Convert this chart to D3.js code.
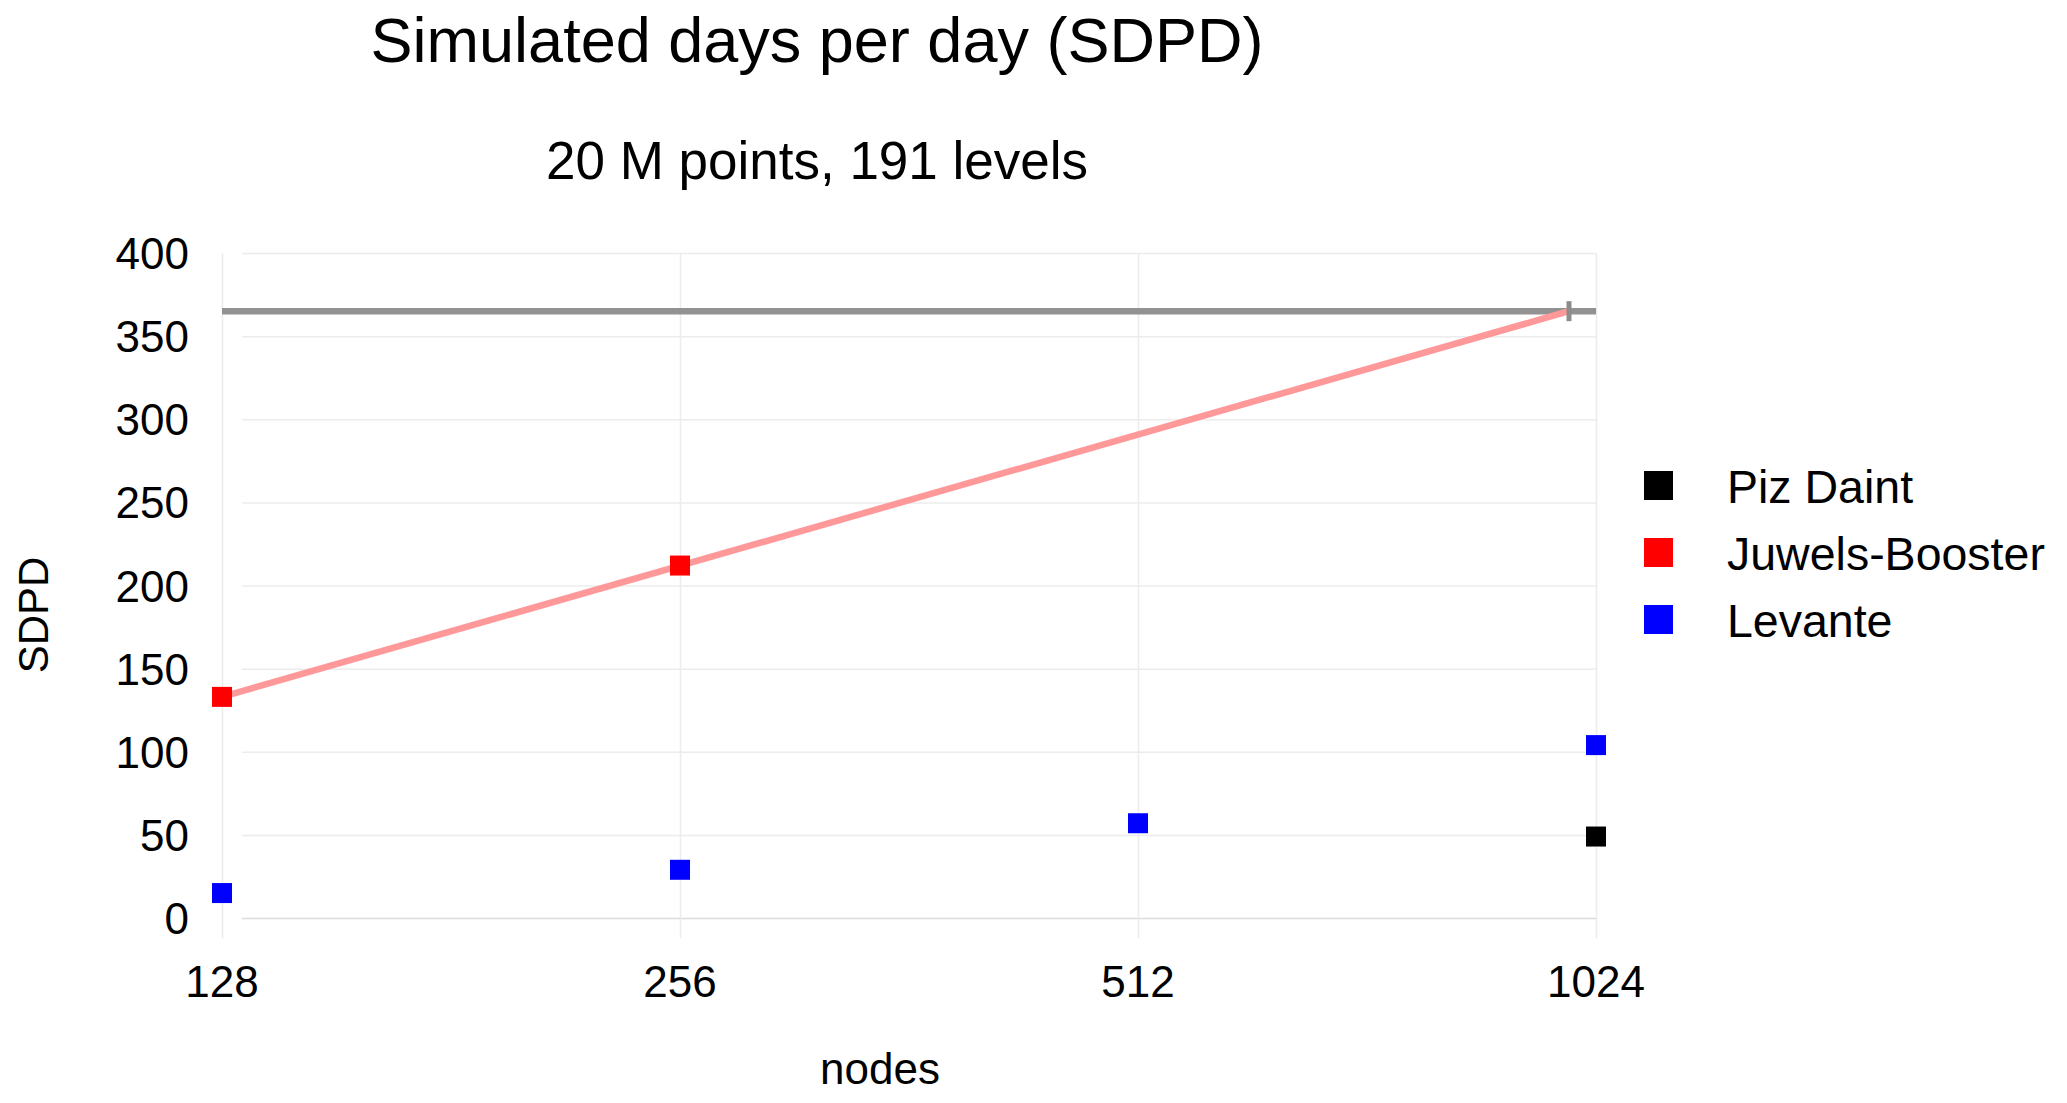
<!DOCTYPE html>
<html>
<head>
<meta charset="utf-8">
<script src="https://cdn.jsdelivr.net/npm/d3@7/dist/d3.min.js"></script>
<style>
    body { margin: 0; background: #fff; }
    text { font-family: "Liberation Sans", Arial, sans-serif; fill: #000; }
    .grid line { stroke: #ececec; stroke-width: 1.5; }
    .grid path { stroke: none; }
</style>
</head>
<body>
<div id="chart"></div>
<script>
    // chart data
    var nodeTicks = [128, 256, 512, 1024];
    var sdpdTicks = [0, 50, 100, 150, 200, 250, 300, 350, 400];

    var seriesNames = ["Piz Daint", "Juwels-Booster", "Levante"];
    var seriesColors = ["#000000", "#ff0000", "#0000ff"];

    var pizDaintNodes = [1024];
    var pizDaintSdpd = [49];
    var juwelsNodes = [128, 256];
    var juwelsSdpd = [133, 212];
    var levanteNodes = [128, 256, 512, 1024];
    var levanteSdpd = [15, 29, 57, 104];

    // one simulated year per day
    var targetSdpd = 365;
    // Juwels trend line, extended until it reaches the target
    var trendNodes = [128, 983];
    var trendSdpd = [133, 365];

    var width = 2067, height = 1103;
    var plot = { left: 222, right: 1596, top: 253, bottom: 918 };

    var svg = d3.select("#chart")
        .append("svg:svg")
        .attr("width", width)
        .attr("height", height);

    var x = d3.scaleLog().base(2)
        .domain([128, 1024])
        .range([plot.left, plot.right]);

    var y = d3.scaleLinear()
        .domain([0, 400])
        .range([plot.bottom, plot.top]);

    // horizontal grid
    svg.append("g")
        .attr("class", "grid")
        .attr("transform", "translate(" + plot.left + ",0)")
        .call(d3.axisLeft(y).tickValues(sdpdTicks)
            .tickSize(-(plot.right - plot.left))
            .tickFormat(""))
        .selectAll("line")
        .attr("x1", 20);
    svg.selectAll(".grid line").filter(function (d) { return d === 0; })
        .style("stroke", "#dcdcdc");

    // vertical grid
    svg.append("g")
        .attr("class", "grid")
        .attr("transform", "translate(0," + plot.top + ")")
        .call(d3.axisTop(x).tickValues(nodeTicks)
            .tickSize(-(plot.bottom - plot.top) - 20)
            .tickFormat(""));

    // y tick labels
    svg.append("g")
        .selectAll("text")
        .data(sdpdTicks)
        .enter().append("text")
        .attr("x", 189)
        .attr("y", function (d) { return y(d) + 16; })
        .attr("text-anchor", "end")
        .style("font-size", "44px")
        .text(function (d) { return d; });

    // x tick labels
    svg.append("g")
        .selectAll("text")
        .data(nodeTicks)
        .enter().append("text")
        .attr("x", function (d) { return x(d); })
        .attr("y", 997)
        .attr("text-anchor", "middle")
        .style("font-size", "44px")
        .text(function (d) { return d; });

    // target line
    svg.append("line")
        .attr("x1", plot.left)
        .attr("x2", plot.right)
        .attr("y1", y(targetSdpd))
        .attr("y2", y(targetSdpd))
        .attr("stroke", "#929292")
        .attr("stroke-width", 6.5);

    // trend line
    var line = d3.line()
        .x(function (d) { return x(d[0]); })
        .y(function (d) { return y(d[1]); });

    svg.append("path")
        .datum(d3.zip(trendNodes, trendSdpd))
        .attr("d", line)
        .attr("fill", "none")
        .attr("stroke", "#ff9999")
        .attr("stroke-width", 6.5);

    svg.append("line")
        .attr("x1", x(trendNodes[1]))
        .attr("x2", x(trendNodes[1]))
        .attr("y1", y(trendSdpd[1]) - 10)
        .attr("y2", y(trendSdpd[1]) + 10)
        .attr("stroke", "#8c8c8c")
        .attr("stroke-width", 5);

    // points
    var series = [
        d3.zip(pizDaintNodes, pizDaintSdpd),
        d3.zip(juwelsNodes, juwelsSdpd),
        d3.zip(levanteNodes, levanteSdpd)
    ];
    var pointSize = 20;

    series.forEach(function (points, i) {
        svg.append("g")
            .selectAll("rect")
            .data(points)
            .enter().append("rect")
            .attr("x", function (d) { return x(d[0]) - pointSize / 2; })
            .attr("y", function (d) { return y(d[1]) - pointSize / 2; })
            .attr("width", pointSize)
            .attr("height", pointSize)
            .attr("fill", seriesColors[i]);
    });

    // titles
    svg.append("text")
        .attr("x", 817)
        .attr("y", 62)
        .attr("text-anchor", "middle")
        .style("font-size", "63px")
        .text("Simulated days per day (SDPD)");

    svg.append("text")
        .attr("x", 817)
        .attr("y", 179)
        .attr("text-anchor", "middle")
        .style("font-size", "53px")
        .text("20 M points, 191 levels");

    svg.append("text")
        .attr("x", 880)
        .attr("y", 1084)
        .attr("text-anchor", "middle")
        .style("font-size", "44px")
        .text("nodes");

    svg.append("text")
        .attr("transform", "translate(48,615) rotate(-90)")
        .attr("text-anchor", "middle")
        .style("font-size", "42px")
        .text("SDPD");

    // legend
    var legend = svg.append("g")
        .selectAll("g")
        .data(seriesNames)
        .enter().append("g")
        .attr("transform", function (d, i) { return "translate(0," + (485.5 + i * 67) + ")"; });

    legend.append("rect")
        .attr("x", 1644)
        .attr("y", -14.5)
        .attr("width", 29)
        .attr("height", 29)
        .attr("fill", function (d, i) { return seriesColors[i]; });

    legend.append("text")
        .attr("x", 1727)
        .attr("y", 17.5)
        .style("font-size", "46.5px")
        .text(function (d) { return d; });
</script>
</body>
</html>
